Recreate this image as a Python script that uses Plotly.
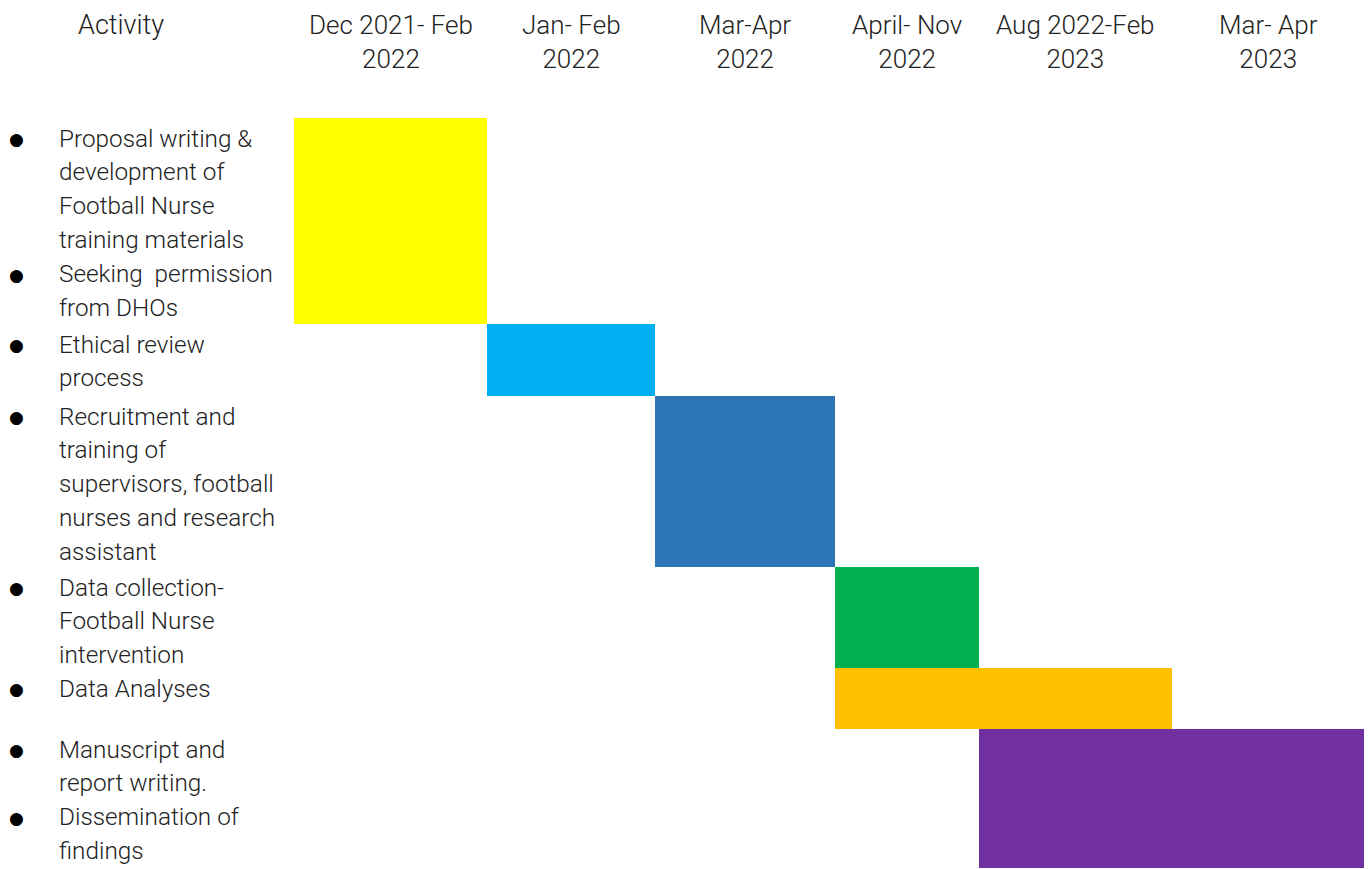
import plotly.graph_objects as go

# ---------------- data ----------------
periods = [
    "Dec 2021- Feb<br>2022",
    "Jan- Feb<br>2022",
    "Mar-Apr<br>2022",
    "April- Nov<br>2022",
    "Aug 2022-Feb<br>2023",
    "Mar- Apr<br>2023",
]

activities = [
    ["Proposal writing &<br>development of<br>Football Nurse<br>training materials",
     "Seeking  permission<br>from DHOs"],
    ["Ethical review<br>process"],
    ["Recruitment and<br>training of<br>supervisors, football<br>nurses and research<br>assistant"],
    ["Data collection-<br>Football Nurse<br>intervention"],
    ["Data Analyses"],
    ["Manuscript and<br>report writing.",
     "Dissemination of<br>findings"],
]

# period index where each activity starts, and index after which it ends
start_period = [0, 1, 2, 3, 3, 4]
end_period = [1, 2, 3, 4, 5, 6]

bar_colors = ["#FFFF00", "#00B0F0", "#2E75B6", "#00B050", "#FFC000", "#7030A0"]

# ---------------- layout (pixel grid of the table) ----------------
PAGE_W, PAGE_H = 1372, 869
BODY_MARGIN = 8  # default page margin around the plot div
col_edges = [294, 487, 655, 835, 979, 1172, 1364]
row_edges = [118, 324, 396, 567, 668, 729, 868]
activity_head_x = 121
header_y = 42
bullet_x = 16
text_x = 57
row_pad = 20
line_pitch = 33.9
FONT = "Roboto"
TXT = "#222222"

row_center = [(row_edges[i] + row_edges[i + 1]) / 2 for i in range(len(activities))]
row_height = [row_edges[i + 1] - row_edges[i] for i in range(len(activities))]
bar_base = [col_edges[s] for s in start_period]
bar_len = [col_edges[e] - col_edges[s] for s, e in zip(start_period, end_period)]

fig = go.Figure()
fig.add_trace(go.Bar(
    orientation="h",
    y=row_center,
    x=bar_len,
    base=bar_base,
    width=row_height,
    marker=dict(color=bar_colors, line=dict(width=0)),
    hoverinfo="skip",
    showlegend=False,
))

head_font = dict(family=FONT, size=26, color=TXT, weight=300)
body_font = dict(family=FONT, size=24.3, color=TXT, weight=300)
annotations = []
annotations.append(dict(x=activity_head_x, y=25, text="Activity", showarrow=False,
                        xanchor="center", yanchor="middle",
                        font=dict(family=FONT, size=27, color=TXT, weight=300)))
for i, p in enumerate(periods):
    cx = (col_edges[i] + col_edges[i + 1]) / 2
    annotations.append(dict(x=cx, y=header_y, text=p, showarrow=False,
                            xanchor="center", yanchor="middle", align="center", font=head_font))

for r, items in enumerate(activities):
    k = 0
    for item in items:
        lines = item.split("<br>")
        for j, ln in enumerate(lines):
            yc = row_edges[r] + row_pad + line_pitch * k
            if j == 0:
                annotations.append(dict(x=bullet_x, y=yc + 1, text="●", showarrow=False,
                                        xanchor="center", yanchor="middle",
                                        font=dict(family="DejaVu Sans", size=17, color="#000000")))
            annotations.append(dict(x=text_x, y=yc, text=ln, showarrow=False,
                                    xanchor="left", yanchor="middle", font=body_font))
            k += 1

fig.update_layout(
    width=PAGE_W - BODY_MARGIN, height=PAGE_H - BODY_MARGIN,
    margin=dict(l=0, r=0, t=0, b=0),
    paper_bgcolor="white", plot_bgcolor="white",
    xaxis=dict(range=[BODY_MARGIN, PAGE_W], visible=False, fixedrange=True),
    yaxis=dict(range=[PAGE_H, BODY_MARGIN], visible=False, fixedrange=True),
    annotations=annotations,
    barmode="overlay",
)

fig.write_html("out.html")
